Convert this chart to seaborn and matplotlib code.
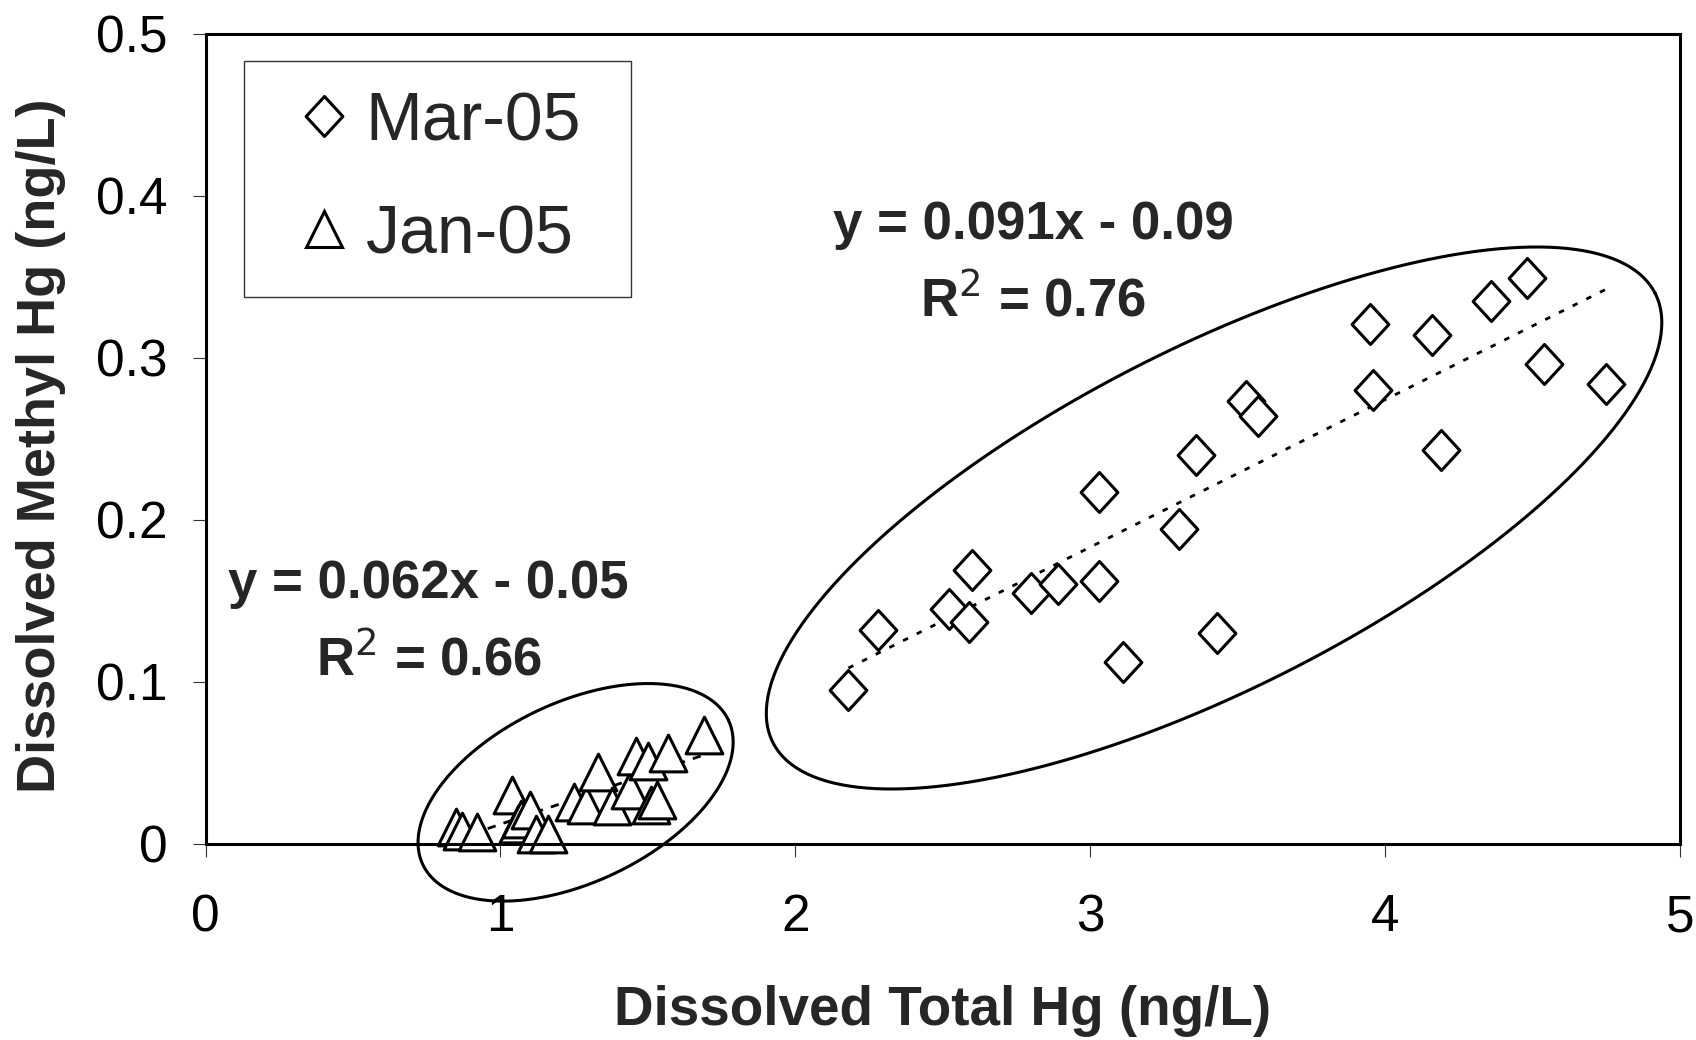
import numpy as np
import pandas as pd
import matplotlib
matplotlib.use("Agg")
import matplotlib.pyplot as plt
from matplotlib.path import Path
from matplotlib.lines import Line2D
import seaborn as sns

# datos
mar_total = [2.18, 2.28, 2.52, 2.59, 2.60, 2.80, 2.89, 3.03, 3.03, 3.11, 3.30, 3.36,
             3.43, 3.53, 3.57, 3.95, 3.96, 4.16, 4.19, 4.36, 4.48, 4.54, 4.75]
mar_methyl = [0.095, 0.132, 0.145, 0.137, 0.169, 0.155, 0.160, 0.217, 0.162, 0.112, 0.194, 0.240,
              0.130, 0.273, 0.264, 0.321, 0.280, 0.314, 0.243, 0.335, 0.349, 0.296, 0.284]

jan_total = [0.85, 0.87, 0.92, 1.04, 1.06, 1.07, 1.10, 1.12, 1.16, 1.25, 1.29, 1.33,
             1.38, 1.44, 1.46, 1.50, 1.51, 1.53, 1.57, 1.69]
jan_methyl = [0.010, 0.008, 0.007, 0.030, 0.012, 0.015, 0.021, 0.006, 0.006, 0.026, 0.024, 0.044,
              0.023, 0.033, 0.054, 0.051, 0.024, 0.027, 0.056, 0.067]

campaigns = ['Mar-05', 'Jan-05']
slopes = [0.091, 0.062]
intercepts = [-0.09, -0.05]
eq_labels = [('y = 0.091x - 0.09', 'R$^2$ = 0.76'), ('y = 0.062x - 0.05', 'R$^2$ = 0.66')]

x_ticks = [0, 1, 2, 3, 4, 5]
y_ticks = [0, 0.1, 0.2, 0.3, 0.4, 0.5]
y_ticklabels = ['0', '0.1', '0.2', '0.3', '0.4', '0.5']

df = pd.DataFrame({
    'total': mar_total + jan_total,
    'methyl': mar_methyl + jan_methyl,
    'campaign': ['Mar-05'] * len(mar_total) + ['Jan-05'] * len(jan_total),
})

sns.set_theme(style='white')
plt.rcParams['font.family'] = ['Liberation Sans', 'DejaVu Sans']

diamond = Path([(0, 1), (0.92, 0), (0, -1), (-0.92, 0), (0, 1)],
               [Path.MOVETO, Path.LINETO, Path.LINETO, Path.LINETO, Path.CLOSEPOLY])

fig = plt.figure(figsize=(16.96, 10.40), dpi=100)
ax = fig.add_axes([205.5 / 1696, 1 - 843.7 / 1040, 1474.5 / 1696, 810.2 / 1040])
ax.set_xlim(0, 5)
ax.set_ylim(0, 0.5)

# lineas de tendencia
for camp, m, b, ls in zip(campaigns, slopes, intercepts, [(0, (2, 3.5)), (0, (3, 3))]):
    sub = df[df.campaign == camp]
    xx = np.array([sub.total.min(), sub.total.max()])
    ax.plot(xx, m * xx + b, color='black', lw=2.0, linestyle=ls, zorder=2)

# puntos
sns.scatterplot(data=df[df.campaign == 'Mar-05'], x='total', y='methyl', marker=diamond,
                s=830, color='white', edgecolor='black', linewidth=2.2, legend=False,
                ax=ax, zorder=3, clip_on=False)
sns.scatterplot(data=df[df.campaign == 'Jan-05'], x='total', y='methyl', marker='^',
                s=700, color='white', edgecolor='black', linewidth=2.2, legend=False,
                ax=ax, zorder=3, clip_on=False)

# elipses (en pixeles, alrededor de cada grupo)
fig.canvas.draw()
ellipses = [((3.42, 0.201), 495, 170, 27.0), ((1.255, 0.0317), 169, 90, 25.3)]
t = np.linspace(0, 2 * np.pi, 400)
for (cx, cy), a, b, ang in ellipses:
    c = ax.transData.transform((cx, cy))
    th = np.deg2rad(ang)
    px = c[0] + a * np.cos(t) * np.cos(th) - b * np.sin(t) * np.sin(th)
    py = c[1] + a * np.cos(t) * np.sin(th) + b * np.sin(t) * np.cos(th)
    pts = ax.transData.inverted().transform(np.column_stack([px, py]))
    ax.plot(pts[:, 0], pts[:, 1], color='black', lw=2.2, clip_on=False, zorder=4)

# ecuaciones
ax.text(2.806, 0.382, eq_labels[0][0], ha='center', va='center', fontsize=38, fontweight='bold')
ax.text(2.806, 0.335, eq_labels[0][1], ha='center', va='center', fontsize=38, fontweight='bold')
ax.text(0.756, 0.160, eq_labels[1][0], ha='center', va='center', fontsize=38, fontweight='bold')
ax.text(0.760, 0.113, eq_labels[1][1], ha='center', va='center', fontsize=38, fontweight='bold')

# ejes
ax.set_xticks(x_ticks)
ax.set_xticklabels([str(v) for v in x_ticks])
ax.set_yticks(y_ticks)
ax.set_yticklabels(y_ticklabels)
ax.tick_params(axis='both', direction='out', length=9.5, width=0.8, color='#333333',
               labelsize=37, colors='black', left=True, bottom=True)
ax.tick_params(axis='x', pad=26)
ax.tick_params(axis='y', pad=18)
for sp in ax.spines.values():
    sp.set_visible(True)
    sp.set_color('black')
    sp.set_linewidth(2.2)
    sp.set_zorder(5)

ax.set_xlabel('Dissolved Total Hg (ng/L)', fontsize=39.5, fontweight='bold')
ax.set_ylabel('Dissolved Methyl Hg (ng/L)', fontsize=39, fontweight='bold')
ax.xaxis.label.set_va('center')
ax.yaxis.label.set_va('center')
ax.xaxis.set_label_coords(0.5, -0.2065)
ax.yaxis.set_label_coords(-0.1116, 0.4909)

# leyenda
handles = [Line2D([], [], marker=diamond, markersize=28.8, mfc='white', mec='black', mew=2.2, ls='none'),
           Line2D([], [], marker='^', markersize=26.5, mfc='white', mec='black', mew=2.2, ls='none')]
leg = ax.legend(handles, campaigns, loc='upper left', bbox_to_anchor=(0.0261, 0.5, 0.2625, 0.4666),
                mode='expand', borderaxespad=0, fontsize=49, frameon=True, fancybox=False,
                borderpad=0.437, handlelength=1.48, handletextpad=-0.13, labelspacing=0.72)
leg.get_frame().set_edgecolor('black')
leg.get_frame().set_linewidth(1.0)

fig.savefig('out.png', dpi=100, facecolor='white')
